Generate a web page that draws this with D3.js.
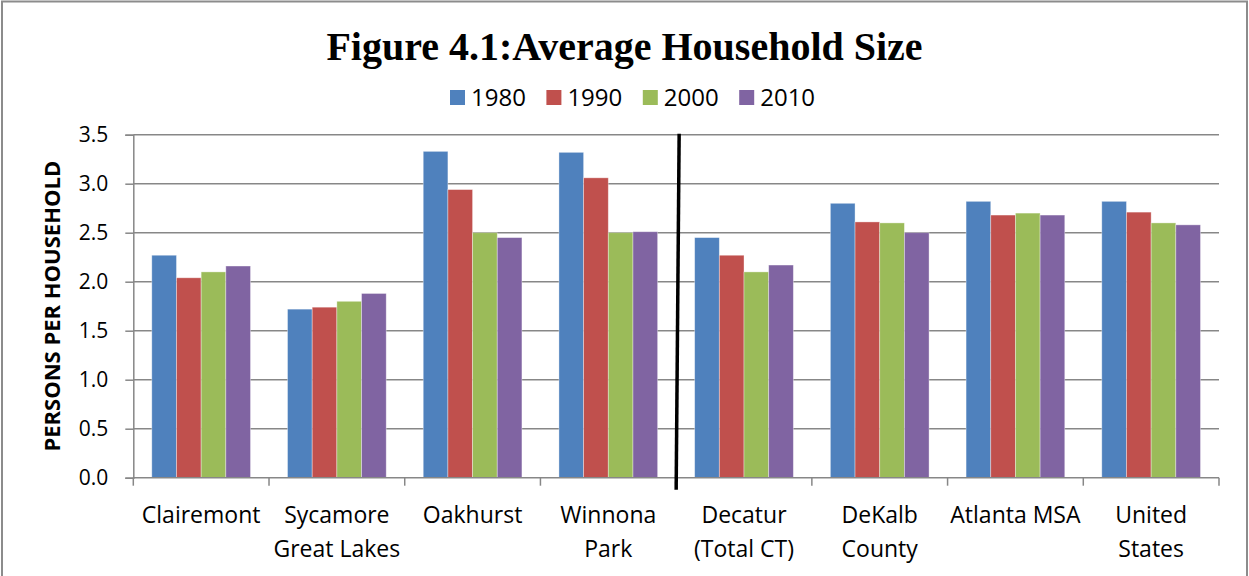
<!DOCTYPE html>
<html lang="en">
<head>
  <meta charset="UTF-8">
  <script src="https://d3js.org/d3.v7.min.js"></script>
  <title>Figure 4.1</title>
  <style>
    body { margin: 0; background: #fff; }
    svg { display: block; }
  </style>
</head>
<body>
  <script>
    // chart data
    const categories = ["Clairemont", "Sycamore\nGreat Lakes", "Oakhurst", "Winnona\nPark",
                        "Decatur\n(Total CT)", "DeKalb\nCounty", "Atlanta MSA", "United\nStates"]
    const years = ["1980", "1990", "2000", "2010"]
    const v1980 = [2.27, 1.72, 3.33, 3.32, 2.45, 2.80, 2.82, 2.82]
    const v1990 = [2.04, 1.74, 2.94, 3.06, 2.27, 2.61, 2.68, 2.71]
    const v2000 = [2.10, 1.80, 2.50, 2.50, 2.10, 2.60, 2.70, 2.60]
    const v2010 = [2.16, 1.88, 2.45, 2.51, 2.17, 2.50, 2.68, 2.58]
    const yTicks = [0, 0.5, 1.0, 1.5, 2.0, 2.5, 3.0, 3.5]
    const colors = ["#4F81BD", "#C0504D", "#9BBB59", "#8064A2"]

    const series = [v1980, v1990, v2000, v2010]
    const dataset = []
    categories.forEach((c, i) => {
      years.forEach((y, j) => dataset.push({ cat: c, year: y, value: series[j][i] }))
    })

    const dimensions = {
      width: 1249,
      height: 576,
      margin: { top: 134.7, right: 30, bottom: 98.3, left: 133.3 }
    }
    dimensions.boundedWidth = dimensions.width - dimensions.margin.left - dimensions.margin.right
    dimensions.boundedHeight = dimensions.height - dimensions.margin.top - dimensions.margin.bottom

    const font = "'Open Sans', sans-serif"
    const gridColor = "#878787"

    const svg = d3.select("body")
        .append("svg")
        .attr("width", dimensions.width)
        .attr("height", dimensions.height)

    // outer frame of the chart object
    svg.append("rect")
        .attr("x", 2).attr("y", 1.5)
        .attr("width", dimensions.width - 4)
        .attr("height", dimensions.height + 20)
        .attr("fill", "none")
        .attr("stroke", "#8c8c8c")
        .attr("stroke-width", 2)

    svg.append("text")
        .attr("x", dimensions.width / 2)
        .attr("y", 60)
        .attr("text-anchor", "middle")
        .style("font-family", "'Liberation Serif', 'Times New Roman', serif")
        .style("font-weight", "bold")
        .style("font-size", "40px")
        .text("Figure 4.1:Average Household Size")

    const bounds = svg.append("g")
        .attr("transform", `translate(${dimensions.margin.left}, ${dimensions.margin.top})`)

    /* Scales */
    const xScale = d3.scaleBand()
        .domain(categories)
        .range([0, dimensions.boundedWidth])
    const bw = xScale.bandwidth()
    // Excel gap width 150%: 4 bars + 1.5 bar of gap per category
    const barW = bw / 5.5
    const xInner = d3.scaleBand()
        .domain(years)
        .range([barW * 0.75, barW * 4.75])
    const yScale = d3.scaleLinear()
        .domain([0, 3.5])
        .range([dimensions.boundedHeight, 0])
    const colorScale = d3.scaleOrdinal().domain(years).range(colors)

    // gridlines
    bounds.append("g")
        .selectAll("line")
        .data(yTicks.filter(d => d > 0))
        .join("line")
        .attr("x1", 0).attr("x2", dimensions.boundedWidth)
        .attr("y1", d => yScale(d)).attr("y2", d => yScale(d))
        .attr("stroke", gridColor)
        .attr("stroke-width", 1.5)

    // bars
    bounds.append("g")
        .selectAll("rect")
        .data(dataset)
        .join("rect")
        .attr("x", d => xScale(d.cat) + xInner(d.year))
        .attr("y", d => yScale(d.value))
        .attr("width", xInner.bandwidth())
        .attr("height", d => yScale(0) - yScale(d.value))
        .attr("fill", d => colorScale(d.year))
        .attr("stroke", "rgba(255,255,255,0.45)")
        .attr("stroke-width", 0.8)

    // y axis
    const yAxis = bounds.append("g")
        .call(d3.axisLeft(yScale).tickValues(yTicks).tickFormat(d3.format(".1f"))
          .tickSize(8).tickPadding(17))
    yAxis.selectAll("line, path").attr("stroke", gridColor).attr("stroke-width", 1.5)
    yAxis.selectAll("text")
        .style("font-family", font)
        .style("font-size", "21px")
        .attr("fill", "#000")
    yAxis.append("text")
        .attr("x", -dimensions.boundedHeight / 2)
        .attr("y", -dimensions.margin.left + 60)
        .attr("transform", "rotate(-90)")
        .attr("text-anchor", "middle")
        .attr("fill", "#000")
        .style("font-family", font)
        .style("font-weight", "bold")
        .style("font-size", "22px")
        .text("PERSONS PER HOUSEHOLD")

    // x axis: baseline, ticks between categories, wrapped labels
    const xAxis = bounds.append("g")
        .attr("transform", `translate(0, ${dimensions.boundedHeight})`)
    xAxis.append("line")
        .attr("x1", 0).attr("x2", dimensions.boundedWidth)
        .attr("stroke", gridColor).attr("stroke-width", 1.5)
    xAxis.selectAll(".sep")
        .data(categories.map(c => xScale(c)).concat([dimensions.boundedWidth]))
        .join("line")
        .attr("class", "sep")
        .attr("x1", d => d).attr("x2", d => d)
        .attr("y1", 0).attr("y2", 8)
        .attr("stroke", gridColor).attr("stroke-width", 1.5)
    const labels = xAxis.selectAll(".cat")
        .data(categories)
        .join("text")
        .attr("class", "cat")
        .attr("text-anchor", "middle")
        .attr("fill", "#000")
        .style("font-family", font)
        .style("font-size", "23px")
    labels.selectAll("tspan")
        .data(d => d.split("\n").map(line => ({ cat: d, line })))
        .join("tspan")
        .attr("x", d => xScale(d.cat) + bw / 2)
        .attr("y", (d, i) => 45 + i * 34)
        .text(d => d.line)

    // hand-drawn divider between neighbourhoods and larger areas
    const divX = xScale(categories[4])
    bounds.append("line")
        .attr("x1", divX + 3).attr("y1", yScale(3.5) - 1)
        .attr("x2", divX).attr("y2", yScale(0) + 12)
        .attr("stroke", "#000")
        .attr("stroke-width", 3.5)

    // legend
    const legend = svg.append("g")
        .attr("transform", "translate(450, 90)")
    const item = legend.selectAll("g")
        .data(years)
        .join("g")
        .attr("transform", (d, i) => `translate(${i * 96.4}, 0)`)
    item.append("rect")
        .attr("width", 15).attr("height", 15)
        .attr("fill", d => colorScale(d))
    item.append("text")
        .attr("x", 21).attr("y", 16)
        .style("font-family", font)
        .style("font-size", "24px")
        .text(d => d)
  </script>
</body>
</html>
